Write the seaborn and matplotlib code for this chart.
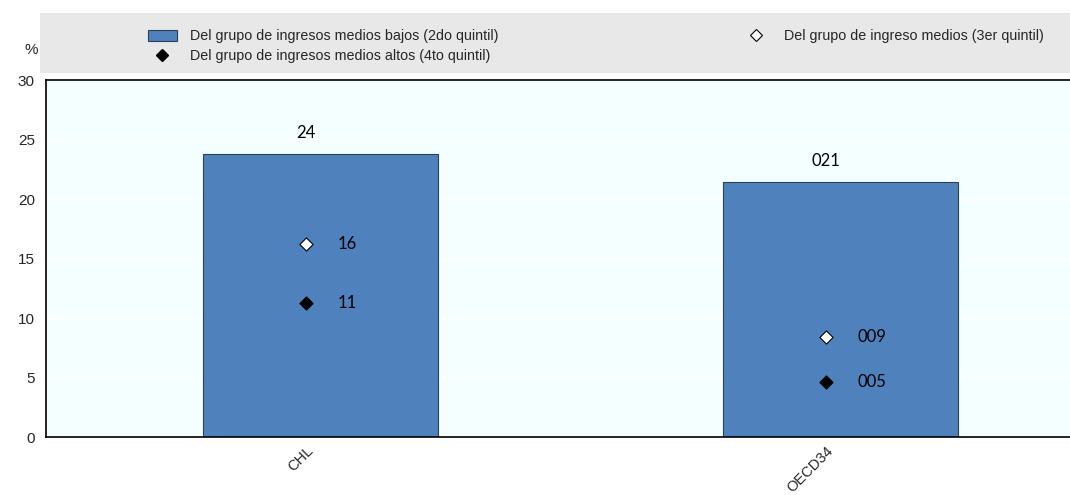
import pandas as pd
import matplotlib.pyplot as plt
import matplotlib.patches as mpatches
from matplotlib.lines import Line2D
import seaborn as sns

# Daten
countries = ['CHL', 'OECD34']
q2_values = [23.8, 21.4]
q3_values = [16.2, 8.4]
q4_values = [11.3, 4.6]
q2_labels = ['24', '021']
q3_labels = ['16', '009']
q4_labels = ['11', '005']

legend_labels = [
    'Del grupo de ingresos medios bajos (2do quintil)',
    'Del grupo de ingresos medios altos (4to quintil)',
    'Del grupo de ingreso medios (3er quintil)',
]

df = pd.DataFrame({'country': countries, 'q2': q2_values, 'q3': q3_values, 'q4': q4_values})

sns.set_style('white')
plt.rcParams['font.family'] = ['Liberation Sans', 'DejaVu Sans']

fig = plt.figure(figsize=(10.7, 4.95), dpi=100)
ax = fig.add_axes([0.043, 0.117, 0.957, 0.721])
ax.set_facecolor('#F4FFFF')

bar_color = '#4F81BD'
sns.barplot(data=df, x='country', y='q2', color=bar_color, width=0.452,
            edgecolor='#2B3F55', linewidth=0.8, saturation=1, ax=ax, zorder=2)
# Balken leicht nach rechts versetzt wie im Original
for p in ax.patches:
    p.set_x(p.get_x() + 0.027)

sns.scatterplot(data=df, x='country', y='q3', marker='D', s=45, color='white',
                edgecolor='black', linewidth=0.8, ax=ax, zorder=3, legend=False)
sns.scatterplot(data=df, x='country', y='q4', marker='D', s=45, color='black',
                edgecolor='black', linewidth=0.8, ax=ax, zorder=3, legend=False)

lab_font = dict(family=['Lato', 'DejaVu Sans'], fontsize=12, color='black')
for i in range(len(countries)):
    ax.text(i, q2_values[i] + 1.1, q2_labels[i], ha='center', va='bottom', **lab_font)
    ax.text(i + 0.06, q3_values[i], q3_labels[i], ha='left', va='center', **lab_font)
    ax.text(i + 0.06, q4_values[i], q4_labels[i], ha='left', va='center', **lab_font)

ax.set_xlim(-0.5, 1.469)
ax.set_ylim(0, 30)
ax.set_yticks(range(0, 31, 5))
ax.yaxis.grid(True, color='white', linewidth=1.2, zorder=0)
ax.set_axisbelow(True)
ax.set_xlabel('')
ax.set_ylabel('')

ax.set_xticks([0, 1])
ax.set_xticklabels(countries, rotation=45, ha='right', rotation_mode='anchor', fontsize=10.5)
ax.set_xticks([0.5], minor=True)
ax.tick_params(axis='x', which='major', length=0, pad=5)
ax.tick_params(axis='x', which='minor', direction='in', length=4, width=1, color='black')
ax.tick_params(axis='y', direction='in', length=4, width=1, color='black', labelsize=11, pad=8)

for side in ['left', 'bottom', 'top']:
    ax.spines[side].set_visible(True)
    ax.spines[side].set_color('black')
    ax.spines[side].set_linewidth(1.2)
ax.spines['right'].set_visible(False)

fig.text(0.029, 0.899, '%', fontsize=11, ha='center', va='center')

# Legende
fig.patches.append(mpatches.Rectangle((0.037, 0.853), 0.963, 0.12, transform=fig.transFigure,
                                      facecolor='#E8E8E8', edgecolor='none', zorder=0))
handles = [
    mpatches.Patch(facecolor=bar_color, edgecolor='#2B3F55', linewidth=0.8),
    Line2D([], [], marker='D', linestyle='none', markersize=6, color='black'),
    Line2D([], [], marker='D', linestyle='none', markersize=6, markerfacecolor='white',
           markeredgecolor='black', markeredgewidth=0.8),
]
fig.legend(handles, legend_labels, ncol=2, loc='upper left', bbox_to_anchor=(0.138, 0.941),
           frameon=False, fontsize=10.3, handlelength=2.05, handleheight=0.8, labelspacing=0.4,
           columnspacing=17.0, borderpad=0, borderaxespad=0, handletextpad=0.9)

plt.savefig('out.png', dpi=100)
